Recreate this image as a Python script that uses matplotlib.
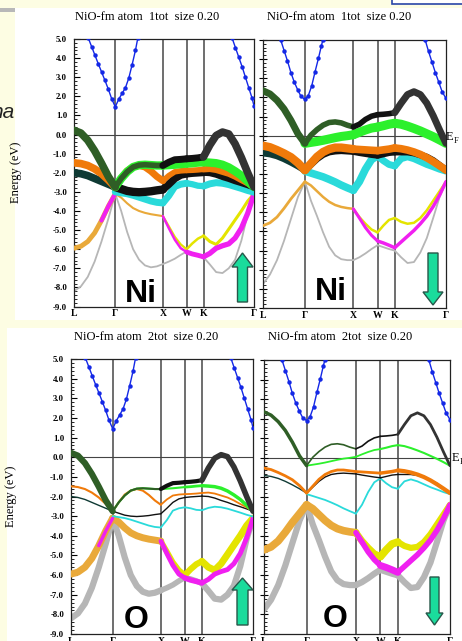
import numpy as np
import matplotlib
matplotlib.use('Agg')
import matplotlib.pyplot as plt
from matplotlib.patches import Rectangle, Polygon
from matplotlib.ticker import MultipleLocator

# ---------------- data ----------------
k_path = [0.000, 0.144, 0.289, 0.433, 0.577, 0.722, 0.866,
          0.991, 1.116, 1.241, 1.366, 1.491, 1.616, 1.741, 1.866,
          1.991, 2.116, 2.241, 2.366,
          2.484, 2.602, 2.720,
          2.853, 2.985, 3.118, 3.250, 3.383, 3.515, 3.648, 3.780]
sym_k = [0.0, 0.866, 1.866, 2.366, 2.720, 3.780]
sym_labels = ['L', 'Γ', 'X', 'W', 'K', 'Γ']
ytick_values = [5, 4, 3, 2, 1, 0, -1, -2, -3, -4, -5, -6, -7, -8, -9]
ytick_labels = ['5.0', '4.0', '3.0', '2.0', '1.0', '0.0', '-1.0', '-2.0', '-3.0',
                '-4.0', '-5.0', '-6.0', '-7.0', '-8.0', '-9.0']
titles = ['NiO-fm atom  1tot  size 0.20', 'NiO-fm atom  1tot  size 0.20',
          'NiO-fm atom  2tot  size 0.20', 'NiO-fm atom  2tot  size 0.20']
atom_labels = ['Ni', 'Ni', 'O', 'O']
N = None

# spin up bands
up_top = [0.22, 0.08, -0.3, -0.85, -1.5, -2.2, -2.75,
          -2.3, -1.95, -1.7, -1.6, -1.58, -1.6, -1.62, -1.62,
          -1.45, -1.32, -1.3, -1.27,
          -1.25, -1.22, -1.17,
          -0.55, -0.05, 0.13, 0.03, -0.49, -1.2, -2.0, -2.75]
up_green = [N, N, N, N, N, N, -2.75,
            -2.3, -1.95, -1.7, -1.6, -1.58, -1.6, -1.62, -1.62,
            -1.6, -1.58, -1.55, -1.52,
            -1.5, -1.47, -1.45,
            -1.47, -1.5, -1.58, -1.72, -1.92, -2.15, -2.45, -2.75]
up_orange = [-1.48, -1.52, -1.62, -1.8, -2.05, -2.38, -2.75,
             -2.3, -1.9, -1.7, -1.62, -1.7, -1.92, -2.2, -2.42,
             -2.15, -1.95, -1.9, -1.88,
             -1.87, -1.85, -1.82,
             -1.8, -1.85, -1.95, -2.05, -2.2, -2.38, -2.55, -2.75]
up_dark = [-2.0, -2.05, -2.15, -2.3, -2.45, -2.6, -2.75,
           -2.85, -2.95, -3.0, -3.02, -3.0, -2.97, -2.92, -2.88,
           -2.6, -2.3, -2.12, -2.05,
           -2.02, -2.0, -1.98,
           -2.0, -2.08, -2.2, -2.3, -2.42, -2.52, -2.63, -2.75]
up_cyan = [N, N, N, N, N, N, -3.0,
           -3.05, -3.1, -3.18, -3.28, -3.38, -3.48, -3.55, -3.58,
           -3.2, -2.72, -2.6, -2.55,
           -2.6, -2.68, -2.7,
           -2.58, -2.52, -2.55, -2.62, -2.72, -2.82, -2.93, -3.02]
up_gold = [-5.95, -5.85, -5.6, -5.15, -4.5, -3.75, -3.1,
           -3.3, -3.6, -3.85, -4.0, -4.1, -4.17, -4.22, -4.27,
           N, N, N, N, N, N, N, N, N, N, N, N, N, N, N]
up_yellow = [N, N, N, N, N, -3.75, -3.1,
             N, N, N, N, N, N, N, -4.27,
             -4.8, -5.35, -5.75, -6.0,
             -5.7, -5.45, -5.3,
             -5.6, -5.75, -5.42, -4.95, -4.47, -4.0, -3.48, -3.1]
up_magenta = [N, N, N, N, -4.5, -3.75, -3.1,
              N, N, N, N, N, N, N, -4.27,
              -4.9, -5.5, -5.95, -6.15,
              -6.25, -6.32, -6.4,
              -6.22, -5.95, -5.82, -5.72, -5.42, -4.9, -4.12, -3.1]
up_gray = [-8.2, -7.95, -7.45, -6.65, -5.6, -4.4, -3.1,
           -4.0, -5.1, -6.0, -6.55, -6.85, -6.95, -6.9, -6.78,
           -6.65, -6.5, -6.3, -6.12,
           -6.2, -6.3, -6.42,
           -6.8, -7.2, -7.25, -7.0, -6.55, -5.55, -4.15, -3.1]
up_blue_k = [0.30, 0.37, 0.44, 0.51, 0.58, 0.65, 0.72, 0.79, 0.866,
             0.94, 1.01, 1.08, 1.15, 1.22, 1.29, 1.34, N,
             3.32, 3.39, 3.46, 3.53, 3.60, 3.67, 3.74, 3.78]
up_blue_e = [5.05, 4.6, 4.15, 3.7, 3.27, 2.83, 2.38, 1.88, 1.45,
             1.85, 2.15, 2.45, 2.95, 3.65, 4.4, 5.05, N,
             5.05, 4.55, 4.05, 3.55, 3.0, 2.45, 1.9, 1.5]

# spin down bands
dn_top = [2.35, 2.18, 1.85, 1.4, 0.8, 0.1, -0.4,
          0.03, 0.32, 0.55, 0.69, 0.72, 0.67, 0.55, 0.46,
          0.6, 0.85, 1.02, 1.1,
          1.12, 1.15, 1.2,
          1.7, 2.15, 2.3, 2.15, 1.7, 1.05, 0.3, -0.4]
dn_green = [N, N, N, N, N, N, -0.4,
            -0.35, -0.3, -0.24, -0.17, -0.1, -0.04, 0.0, 0.05,
            0.18, 0.3, 0.4, 0.45,
            0.52, 0.6, 0.65,
            0.6, 0.5, 0.38, 0.25, 0.1, -0.05, -0.22, -0.4]
dn_orange = [-0.52, -0.6, -0.75, -0.92, -1.12, -1.42, -1.8,
             -1.45, -1.1, -0.85, -0.7, -0.62, -0.62, -0.66, -0.7,
             -0.72, -0.74, -0.76, -0.78,
             -0.74, -0.7, -0.64,
             -0.68, -0.75, -0.85, -0.98, -1.15, -1.35, -1.57, -1.8]
dn_dark = [-0.9, -0.95, -1.05, -1.2, -1.38, -1.58, -1.8,
           -1.5, -1.2, -0.98, -0.85, -0.8, -0.78, -0.8, -0.82,
           -0.88, -0.93, -0.98, -1.02,
           -0.95, -0.88, -0.85,
           -0.85, -0.85, -0.9, -1.0, -1.12, -1.3, -1.55, -1.8]
dn_cyan = [N, N, N, N, N, N, -1.85,
           -1.95, -2.05, -2.15, -2.28, -2.42, -2.58, -2.72, -2.85,
           -2.4, -1.75, -1.25, -1.05,
           -1.3, -1.5, -1.58,
           -1.2, -1.1, -1.2, -1.35, -1.5, -1.62, -1.75, -1.85]
dn_gold = [-4.7, -4.55, -4.25, -3.8, -3.3, -2.85, -2.4,
           -2.6, -2.9, -3.2, -3.45, -3.62, -3.72, -3.78, -3.82,
           N, N, N, N, N, N, N, N, N, N, N, N, N, N, N]
dn_yellow = [N, N, N, N, N, N, N,
             N, N, N, N, N, N, N, -3.82,
             -4.25, -4.6, -4.9, -5.05,
             -4.7, -4.4, -4.3,
             -4.5, -4.6, -4.55, -4.3, -3.9, -3.4, -2.9, -2.4]
dn_magenta = [N, N, N, N, N, N, N,
              N, N, N, N, N, N, N, -3.82,
              -4.3, -4.8, -5.2, -5.5,
              -5.6, -5.72, -5.85,
              -5.55, -5.25, -4.95, -4.6, -4.2, -3.7, -3.1, -2.4]
dn_gray = [-7.75, -7.25, -6.5, -5.5, -4.35, -3.2, -2.4,
           -3.4, -4.2, -5.05, -5.8, -6.25, -6.45, -6.5, -6.5,
           -6.35, -6.15, -5.92, -5.72,
           -5.82, -5.92, -6.0,
           -6.35, -6.65, -6.6, -6.1, -5.35, -4.3, -3.2, -2.4]
dn_blue_k = [0.366, 0.436, 0.506, 0.576, 0.646, 0.716, 0.786, 0.866,
             0.936, 1.006, 1.076, 1.146, 1.206, 1.236, N,
             3.35, 3.42, 3.49, 3.56, 3.63, 3.70, 3.78]
dn_blue_e = [5.0, 4.45, 3.9, 3.3, 2.8, 2.4, 2.05, 1.9,
             2.1, 2.6, 3.35, 4.05, 4.7, 5.0, N,
             5.0, 4.4, 3.85, 3.3, 2.8, 2.3, 1.95]

# ---------------- style ----------------
C_GRAY = '#b6b6b6'; C_GOLD = '#e9a93a'; C_YEL = '#e4e400'; C_MAG = '#f020f0'
C_CYAN = '#2adada'; C_TEAL = '#0f3a34'; C_BLK = '#111111'; C_OR = '#f07a0a'
C_GRN = '#2cf02c'; C_DKG = '#2f5e26'; C_BLUE = '#1428e6'; C_BK2 = '#333333'

seg_idx = [(0, 6), (6, 14), (14, 18), (18, 21), (21, 29)]

def band_set(top, green, orange, dark, cyan, gold, yellow, magenta, gray):
    return [
        ('gray', gray, [C_GRAY] * 5),
        ('gold', gold, [C_GOLD] * 5),
        ('yellow', yellow, [C_YEL] * 5),
        ('magenta', magenta, [C_MAG] * 5),
        ('cyan', cyan, [C_CYAN] * 5),
        ('dark', dark, [C_TEAL, C_BLK, C_BLK, C_BLK, C_BLK]),
        ('orange', orange, [C_OR] * 5),
        ('green', green, [C_GRN] * 5),
        ('top', top, [C_DKG, C_DKG, C_BLK, C_BLK, C_BK2]),
    ]

bands_up = band_set(up_top, up_green, up_orange, up_dark, up_cyan,
                    up_gold, up_yellow, up_magenta, up_gray)
bands_dn = band_set(dn_top, dn_green, dn_orange, dn_dark, dn_cyan,
                    dn_gold, dn_yellow, dn_magenta, dn_gray)

widths_p1 = {'gray': [1.3] * 5, 'gold': [3.5, 1.5, 0, 0, 0], 'yellow': [0, 0, 1.6, 1.8, 2.2],
             'magenta': [3.0, 0, 1.8, 3.5, 3.8], 'cyan': [0, 5.0, 5.0, 4.5, 5.0],
             'dark': [5.5, 6.0, 5.5, 5.5, 5.0], 'orange': [5.5, 5.0, 4.0, 4.0, 4.5],
             'green': [0, 6.0, 6.0, 6.0, 6.0], 'top': [5.5, 4.0, 5.0, 5.0, 5.5]}
widths_p2 = {'gray': [1.3] * 5, 'gold': [2.0, 1.8, 0, 0, 0], 'yellow': [0, 0, 1.8, 1.8, 1.8],
             'magenta': [0, 0, 2.2, 2.5, 2.5], 'cyan': [0, 5.5, 5.5, 5.0, 5.0],
             'dark': [5.0, 5.0, 5.0, 5.0, 5.0], 'orange': [6.0, 6.0, 5.5, 5.5, 5.5],
             'green': [0, 6.5, 6.5, 6.5, 6.5], 'top': [5.0, 4.0, 4.0, 4.0, 5.0]}
widths_p3 = {'gray': [4.5, 4.5, 4.0, 4.0, 4.5], 'gold': [5.0, 5.0, 0, 0, 0],
             'yellow': [2.5, 0, 4.0, 4.5, 5.0], 'magenta': [2.5, 0, 3.5, 4.0, 3.5],
             'cyan': [0, 1.3, 1.3, 1.3, 1.3], 'dark': [1.0] * 5,
             'orange': [1.5, 1.5, 1.3, 1.3, 1.3], 'green': [0, 1.5, 1.5, 2.0, 2.5],
             'top': [4.5, 1.5, 3.0, 3.0, 4.0]}
widths_p4 = {'gray': [4.5] * 5, 'gold': [5.5, 5.5, 0, 0, 0], 'yellow': [0, 0, 5.0, 5.5, 4.5],
             'magenta': [0, 0, 4.0, 5.0, 4.0], 'cyan': [0, 1.3, 1.3, 1.3, 1.3],
             'dark': [1.0] * 5, 'orange': [2.0, 2.0, 2.0, 2.5, 3.0],
             'green': [0, 1.3, 1.3, 1.5, 1.5], 'top': [2.5, 1.2, 1.2, 1.2, 2.0]}

W, H = 462, 641
BG = '#fdfde3'

def fx(x):
    return x / W

def fy(y):
    return 1 - y / H

fig = plt.figure(figsize=(W / 100, H / 100), dpi=100)
fig.patch.set_facecolor(BG)

# slide background pieces
fig.add_artist(Rectangle((fx(15), fy(320)), fx(W) - fx(15), fy(8) - fy(320),
                         transform=fig.transFigure, facecolor='white', edgecolor='none', zorder=-10))
fig.add_artist(Rectangle((fx(7), fy(641)), fx(W) - fx(7), fy(328) - fy(641),
                         transform=fig.transFigure, facecolor='white', edgecolor='none', zorder=-10))
fig.add_artist(Rectangle((fx(0), fy(12)), fx(15), fy(8) - fy(12),
                         transform=fig.transFigure, facecolor='#b8b8b8', edgecolor='none', zorder=-9))
fig.add_artist(Rectangle((fx(392), fy(4)), fx(W + 5) - fx(392), fy(-3) - fy(4),
                         transform=fig.transFigure, facecolor='white', edgecolor='#2a46a8', lw=1.2, zorder=-9))
fig.text(fx(-8), fy(118), 'na', fontsize=15, style='italic', family='Liberation Sans',
         color='#222222', va='baseline', ha='left', zorder=-20)

axes_px = [(74, 39, 254, 306.5), (263, 40, 446, 308), (71, 359, 253, 634), (264, 360, 450, 634)]
panel_bands = [bands_up, bands_dn, bands_up, bands_dn]
panel_widths = [widths_p1, widths_p2, widths_p3, widths_p4]
panel_blue = [(up_blue_k, up_blue_e), (dn_blue_k, dn_blue_e), (up_blue_k, up_blue_e), (dn_blue_k, dn_blue_e)]

k_arr = np.array(k_path, float)

def to_arr(v):
    return np.array([np.nan if x is None else x for x in v], float)

axes = []
for p in range(4):
    x0, y0, x1, y1 = axes_px[p]
    ax = fig.add_axes([fx(x0), fy(y1), fx(x1) - fx(x0), fy(y0) - fy(y1)])
    ax.set_facecolor('white')
    ax.set_xlim(0, 3.78)
    ax.set_ylim(-9, 5)
    for s in sym_k[1:-1]:
        ax.axvline(s, color='#555555', lw=1.2, zorder=1)
    ax.axhline(0, color='#444444', lw=0.8, zorder=1)
    z = 2
    for name, E, cols in panel_bands[p]:
        Ea = to_arr(E)
        w = panel_widths[p][name]
        for s, (a, b) in enumerate(seg_idx):
            if w[s] <= 0:
                continue
            ax.plot(k_arr[a:b + 1], Ea[a:b + 1], color=cols[s], lw=w[s],
                    solid_capstyle='round', solid_joinstyle='round', zorder=z)
        z += 1
    bk, be = panel_blue[p]
    ax.plot(to_arr(bk), to_arr(be), '-o', color=C_BLUE, lw=1.0, ms=3.2, mew=0, zorder=z + 1)

    ax.set_xticks(sym_k)
    ax.set_xticklabels(sym_labels, family='Liberation Serif', fontsize=7, fontweight='bold')
    ax.tick_params(axis='x', length=0, pad=2)
    ax.set_yticks(ytick_values)
    ax.yaxis.set_minor_locator(MultipleLocator(0.2))
    if p in (0, 2):
        ax.set_yticklabels(ytick_labels, family='Liberation Serif', fontsize=6.3, fontweight='bold')
        ax.tick_params(axis='y', which='major', direction='in', length=4, width=0.8, pad=5)
        ax.set_ylabel('Energy (eV)', family='Liberation Serif', fontsize=9)
    else:
        ax.set_yticklabels([])
        ax.tick_params(axis='y', which='major', direction='inout', length=6, width=0.8)
    ax.tick_params(axis='y', which='minor', direction='in', length=2, width=0.6)
    for sp in ax.spines.values():
        sp.set_linewidth(0.9)
        sp.set_color('#222222')
    axes.append(ax)

for p, xl in ((0, 22), (2, 17)):
    x0, y0, x1, y1 = axes_px[p]
    axes[p].yaxis.set_label_coords((xl - x0) / (x1 - x0), 0.5)

# titles
title_pos = [(147, 17), (339, 17), (146, 337), (340, 337)]
for t, (tx, ty) in zip(titles, title_pos):
    fig.text(fx(tx), fy(ty), t, family='Liberation Serif', fontsize=9, ha='center', va='center')

# E_F labels
for ex, ey in ((446, 140), (452, 461)):
    fig.text(fx(ex), fy(ey), 'E', family='Liberation Serif', fontsize=9, ha='left', va='baseline')
    fig.text(fx(ex + 8), fy(ey + 3), 'F', family='Liberation Serif', fontsize=6, ha='left', va='baseline')

# atom labels
lab_pos = [(141, 302), (331, 300), (136, 628), (335, 627)]
for t, (lx, ly) in zip(atom_labels, lab_pos):
    fig.text(fx(lx), fy(ly), t, family='Liberation Sans', fontsize=23, fontweight='bold',
             ha='center', va='baseline', zorder=6)

# spin arrows
def arrow(tipx, tipy, base_y, hw, sw, end_y):
    pts = [(tipx, tipy), (tipx + hw, base_y), (tipx + sw, base_y), (tipx + sw, end_y),
           (tipx - sw, end_y), (tipx - sw, base_y), (tipx - hw, base_y)]
    poly = Polygon([(fx(a), fy(b)) for a, b in pts], closed=True, transform=fig.transFigure,
                   facecolor='#1adc9c', edgecolor='#28574a', lw=1.0, zorder=6)
    fig.add_artist(poly)

arrow(242.5, 253, 267, 10.5, 5, 302)
arrow(433, 305, 292, 10, 5, 253)
arrow(242.5, 578, 590, 10.5, 5.5, 625)
arrow(434.5, 625, 613, 8.5, 4.5, 577)

fig.savefig('out.png', dpi=100, facecolor=BG)
